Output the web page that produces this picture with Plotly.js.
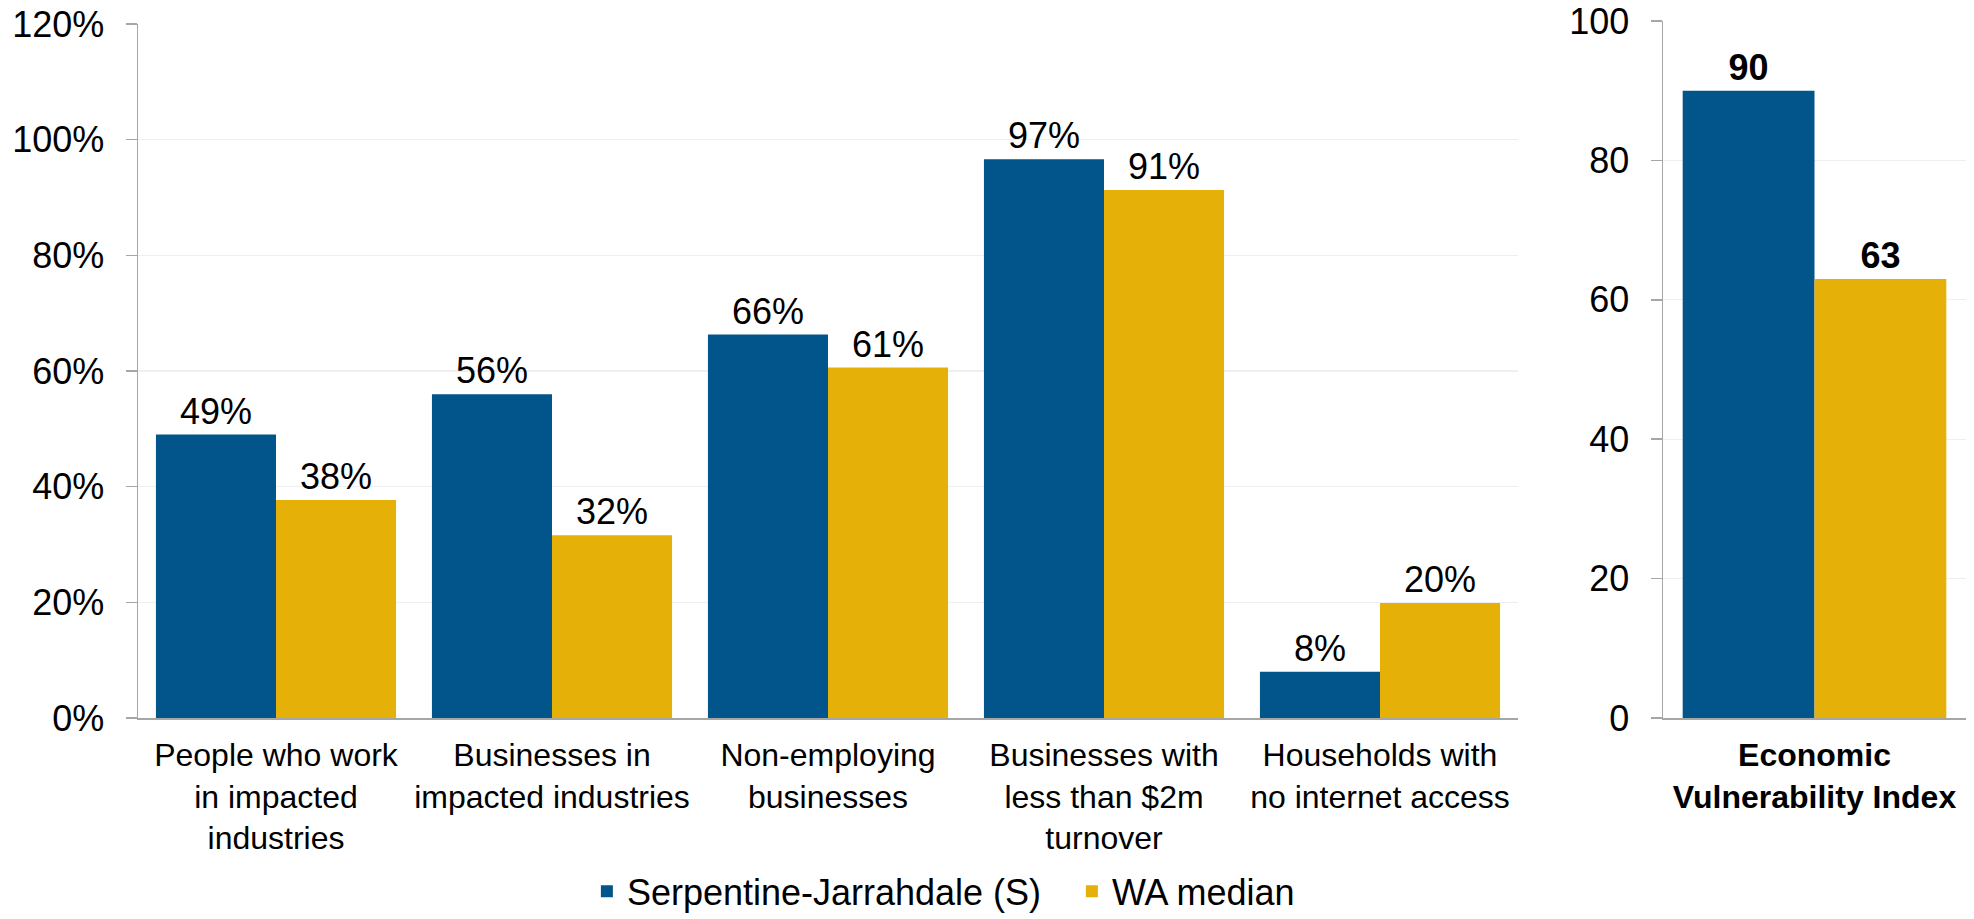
<!DOCTYPE html>
<html>
<head>
<meta charset="utf-8">
<script src="https://cdn.plot.ly/plotly-3.0.1.min.js"></script>
<style>html,body{margin:0;padding:0;background:#fff;}#chart{width:1974px;height:919px;}</style>
</head>
<body>
<div id="chart"></div>
<script>
const categories = [
  "People who work<br>in impacted<br>industries",
  "Businesses in<br>impacted industries",
  "Non-employing<br>businesses",
  "Businesses with<br>less than $2m<br>turnover",
  "Households with<br>no internet access"
];
const serpentine = [0.49, 0.56, 0.663, 0.966, 0.08];
const waMedian = [0.377, 0.316, 0.606, 0.913, 0.199];
const indexCategory = ["Economic<br>Vulnerability Index"];
const serpentineIndex = [90];
const waMedianIndex = [63];
const seriesNames = ["Serpentine-Jarrahdale (S)", "WA median"];

const BLUE = "#02558B", GOLD = "#E5B109";
const FONT = "Liberation Sans, Arial, sans-serif";

const traces = [
  {type:"bar", x:categories, y:serpentine, name:seriesNames[0], marker:{color:BLUE},
   texttemplate:"%{y:.0%}", textposition:"outside", textfont:{size:36,color:"#000",family:FONT},
   cliponaxis:false, xaxis:"x", yaxis:"y", legendgroup:"s", hoverinfo:"y"},
  {type:"bar", x:categories, y:waMedian, name:seriesNames[1], marker:{color:GOLD},
   texttemplate:"%{y:.0%}", textposition:"outside", textfont:{size:36,color:"#000",family:FONT},
   cliponaxis:false, xaxis:"x", yaxis:"y", legendgroup:"w", hoverinfo:"y"},
  {type:"bar", x:indexCategory, y:serpentineIndex, name:seriesNames[0], marker:{color:BLUE},
   texttemplate:"%{y}", textposition:"outside", textfont:{size:36,color:"#000",family:FONT,weight:"bold"},
   cliponaxis:false, xaxis:"x2", yaxis:"y2", legendgroup:"s", showlegend:false, hoverinfo:"y"},
  {type:"bar", x:indexCategory, y:waMedianIndex, name:seriesNames[1], marker:{color:GOLD},
   texttemplate:"%{y}", textposition:"outside", textfont:{size:36,color:"#000",family:FONT,weight:"bold"},
   cliponaxis:false, xaxis:"x2", yaxis:"y2", legendgroup:"w", showlegend:false, hoverinfo:"y"}
];

const axisLine = "#a6a6a6";
const layout = {
  width:1974, height:919,
  margin:{l:0,r:0,t:0,b:0, autoexpand:false},
  paper_bgcolor:"#fff", plot_bgcolor:"#fff",
  font:{family:FONT, color:"#000"},
  barmode:"group", bargap:0.13, bargroupgap:0,
  showlegend:true,
  legend:{orientation:"h", x:0.543, xanchor:"center", y:0.03, yanchor:"middle",
          font:{size:36, family:FONT, color:"#000"}, itemwidth:30, tracegroupgap:0,
          entrywidth:440},
  xaxis:{domain:[138/1974, 1518/1974], anchor:"y", showline:true, linecolor:axisLine, linewidth:1.5,
         ticks:"", tickfont:{size:32, family:FONT, color:"#000"}, ticklabelstandoff:8,
         showgrid:false, zeroline:false, fixedrange:true},
  yaxis:{domain:[(919-718)/919, (919-24)/919], anchor:"x", range:[0,1.2], dtick:0.2, tick0:0,
         tickformat:".0%", showline:true, linecolor:axisLine, linewidth:1.5,
         ticks:"outside", ticklen:11, tickcolor:axisLine, tickwidth:1.5,
         tickfont:{size:36, family:FONT, color:"#000"}, ticklabelstandoff:14,
         showgrid:true, gridcolor:"#efefef", gridwidth:1.2, zeroline:false, fixedrange:true},
  xaxis2:{domain:[1663/1974, 1966/1974], anchor:"y2", showline:true, linecolor:axisLine, linewidth:1.5,
          ticks:"", tickfont:{size:32, family:FONT, color:"#000", weight:"bold"}, ticklabelstandoff:8,
          showgrid:false, zeroline:false, fixedrange:true},
  yaxis2:{domain:[(919-718)/919, (919-21)/919], anchor:"x2", range:[0,100], dtick:20, tick0:0,
          showline:true, linecolor:axisLine, linewidth:1.5,
          ticks:"outside", ticklen:11, tickcolor:axisLine, tickwidth:1.5,
          tickfont:{size:36, family:FONT, color:"#000"}, ticklabelstandoff:14,
          showgrid:true, gridcolor:"#efefef", gridwidth:1.2, zeroline:false, fixedrange:true}
};

Plotly.newPlot("chart", traces, layout, {displayModeBar:false, staticPlot:true});
</script>
</body>
</html>
